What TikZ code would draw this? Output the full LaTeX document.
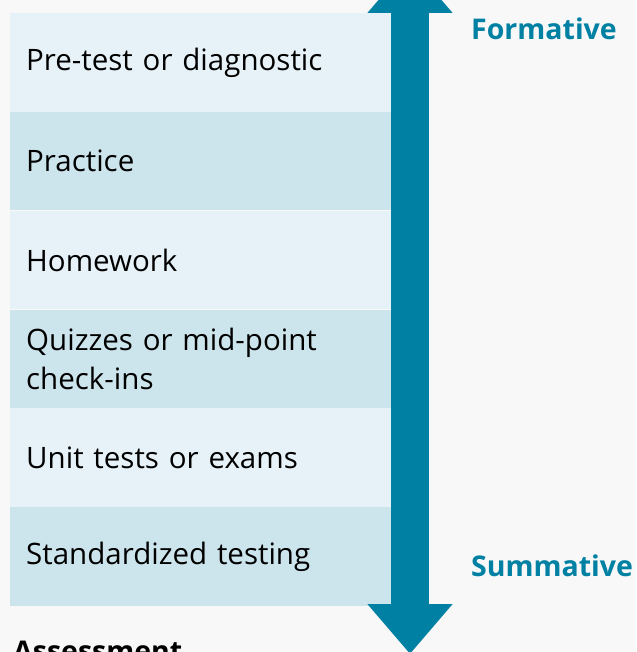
\documentclass[tikz,border=0pt]{standalone}
\usepackage{fontspec}
\setmainfont{Open Sans}
\usetikzlibrary{arrows.meta, positioning}
\definecolor{scaleblue}{RGB}{0,128,162}
\definecolor{rowlight}{RGB}{230,242,247}
\definecolor{rowdark}{RGB}{204,229,236}
\definecolor{pagebg}{RGB}{248,248,248}

\begin{document}
\begin{tikzpicture}[
    x=1pt, y=-1pt,
    row/.style={rectangle, minimum width=381pt, minimum height=98.4pt,
                text width=349pt, inner xsep=16pt, inner ysep=0pt,
                align=left, font=\fontsize{29.5}{39}\selectfont},
    light/.style={row, fill=rowlight},
    dark/.style={row, fill=rowdark},
    endlabel/.style={font=\fontsize{28.5}{38}\selectfont\bfseries,
                     text=scaleblue, inner sep=0pt, anchor=west},
    bigarrow/.style={line width=38pt, draw=scaleblue,
                     {Triangle[width=82pt, length=50pt]}-{Triangle[width=82pt, length=50pt]}},
  ]
    \useasboundingbox (0,0) rectangle (636,652);
    \clip (0,0) rectangle (636,652);
    \fill[pagebg] (0,0) rectangle (636,652);

    % stacked assessment types
    \node[light, anchor=north west] (pre) at (10,13) {Pre-test or diagnostic};
    \node[dark, below=0pt of pre] (prac) {Practice};
    \node[light, below=0pt of prac] (hw) {Homework};
    \node[dark, below=0pt of hw] (quiz) {Quizzes or mid-point\\check-ins};
    \node[light, below=0pt of quiz] (unit) {Unit tests or exams};
    \node[dark, below=0pt of unit] (std) {Standardized testing};

    % double-headed scale beside the rows
    \coordinate (top) at (410,-37);
    \coordinate (bot) at (410,654);
    \draw[bigarrow] (top) -- (bot);

    \node[endlabel] (form) at (471,29) {Formative};
    \node[endlabel] (summ) at (471,566) {Summative};

    \node[font=\fontsize{28.5}{38}\selectfont\bfseries, inner sep=0pt,
          anchor=base west] (title) at (13,661) {Assessment};
\end{tikzpicture}
\end{document}
